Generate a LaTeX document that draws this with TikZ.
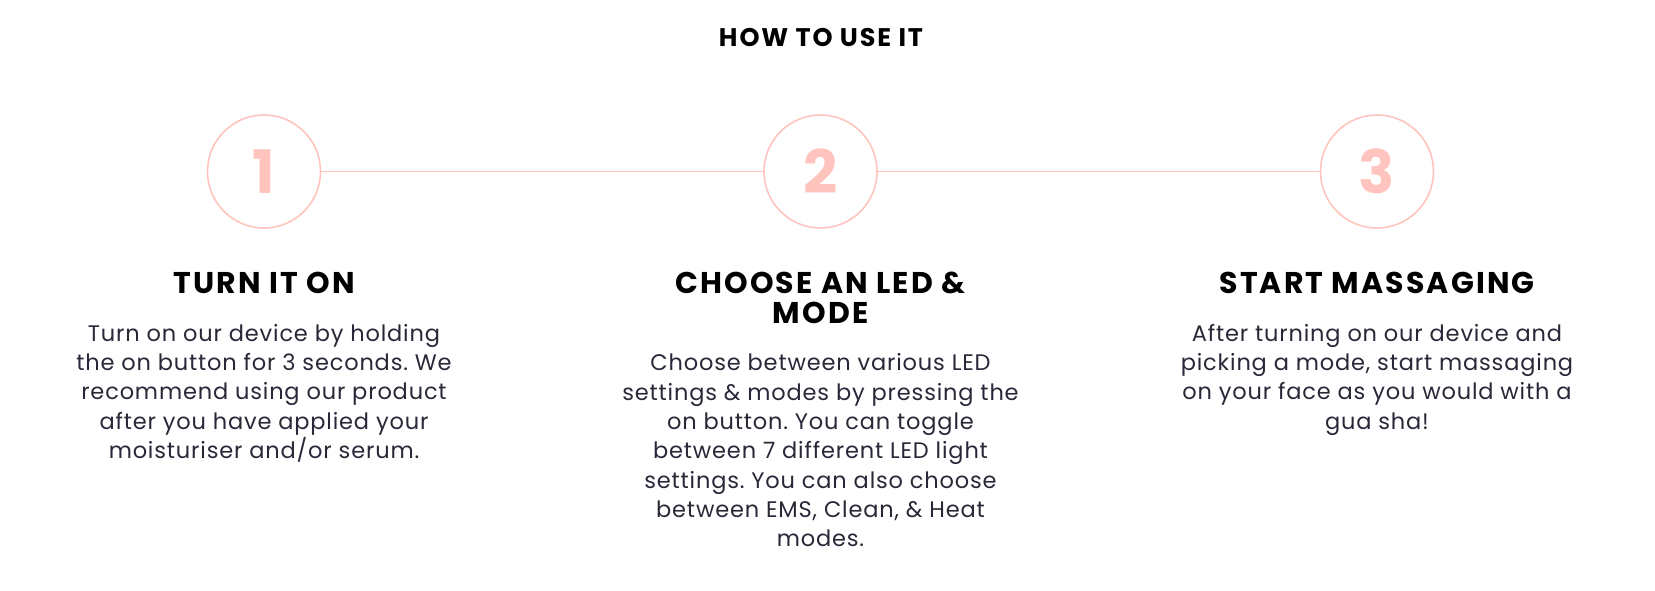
\documentclass[tikz,border=0pt]{standalone}
\usepackage{fontspec}
\setmainfont{Poppins}
\newfontfamily\titlefont[LetterSpace=7.5]{Poppins}
\newfontfamily\headfont[LetterSpace=7]{Poppins}
\newfontfamily\bodyfont[LetterSpace=3.7]{Poppins}
\definecolor{pinkc}{RGB}{255,196,190}
\definecolor{bodyc}{RGB}{42,40,56}
\frenchspacing
\begin{document}
\begin{tikzpicture}[x=1pt,y=-1pt,
  stepcircle/.style={circle,draw=pinkc,line width=1.6pt,minimum size=113pt,inner sep=0pt,
     text=pinkc,font=\fontsize{60}{60}\selectfont\bfseries},
  link/.style={draw=pinkc,line width=1.6pt},
  heading/.style={align=center,inner sep=0pt,anchor=north,font=\headfont\fontsize{30}{30}\selectfont\bfseries},
  bodytext/.style={align=center,inner sep=0pt,anchor=north,text=bodyc,font=\bodyfont\fontsize{22.5}{29.3}\selectfont\frenchspacing}]
\useasboundingbox (0,0) rectangle (1655,591);
\node[font=\titlefont\fontsize{25.5}{25.5}\selectfont\bfseries,inner sep=0pt] (title) at (821,38) {HOW TO USE IT};
\node[stepcircle] (c1) at (264,171.5) {1};
\node[stepcircle] (c2) at (820.5,171.5) {2};
\node[stepcircle] (c3) at (1377,171.5) {3};
\draw[link] (c1) -- (c2);
\draw[link] (c2) -- (c3);
\node[heading] (h1) at (264,272) {TURN IT ON};
\node[heading] (h2) at (820.5,272) {CHOOSE AN LED \&\\MODE};
\node[heading] (h3) at (1377,272) {START MASSAGING};
\node[bodytext] (b1) at (264,324) {Turn on our device by holding\\the on button for 3 seconds. We\\recommend using our product\\after you have applied your\\moisturiser and/or serum.};
\node[bodytext] (b2) at (820.5,353.5) {Choose between various LED\\settings \& modes by pressing the\\on button. You can toggle\\between 7 different LED light\\settings. You can also choose\\between EMS, Clean, \& Heat\\modes.};
\node[bodytext] (b3) at (1377,324) {After turning on our device and\\picking a mode, start massaging\\on your face as you would with a\\gua sha!};
\end{tikzpicture}
\end{document}
